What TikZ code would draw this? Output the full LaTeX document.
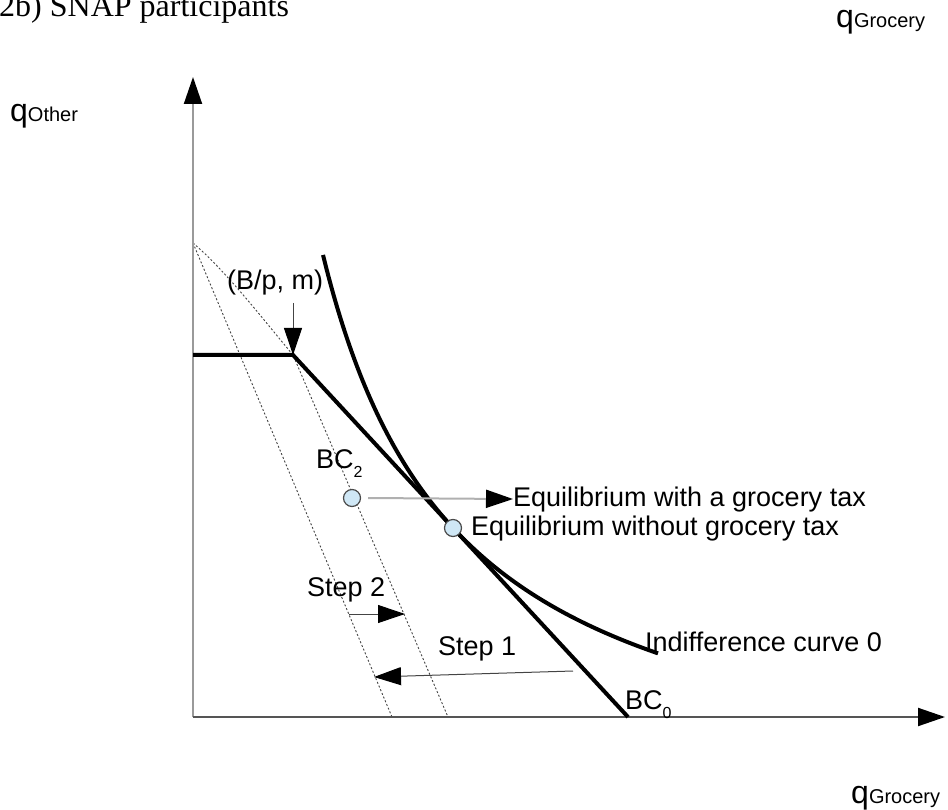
\documentclass[tikz,border=0pt]{standalone}
\usepackage{fontspec}
\setmainfont{Liberation Sans}
\newfontfamily\titlefont{Liberation Serif}
\usetikzlibrary{arrows.meta}
\definecolor{dotfill}{HTML}{CFE7F5}
\definecolor{dotdraw}{HTML}{4A4A4A}
\definecolor{axisv}{HTML}{9A9A9A}
\definecolor{axish}{HTML}{555555}
\definecolor{dashc}{HTML}{444444}
\definecolor{arrgray}{HTML}{B0B0B0}
\tikzset{
  bigtip/.style={-{Triangle[length=27pt,width=18pt,color=black]}},
  axisline/.style={line width=2pt, bigtip},
  thick line/.style={line width=4pt, black, line join=miter},
  budgetdash/.style={line width=0.9pt, dashc, dash pattern=on 2pt off 2pt},
  thinarrow/.style={line width=1pt, dashc, bigtip},
  eqdot/.style={circle, draw=dotdraw, fill=dotfill, line width=1.2pt, minimum size=17pt, inner sep=0pt},
  lbl/.style={inner sep=0pt, font=\fontsize{27}{30}\selectfont},
  qbig/.style={inner sep=0pt}
}
\newcommand{\qlabel}[1]{{\fontsize{32}{32}\selectfont q}{\fontsize{20}{20}\selectfont #1}}
\newcommand{\subl}[1]{\raisebox{-0.36em}{\fontsize{16}{16}\selectfont #1}}
\begin{document}
\begin{tikzpicture}[x=1pt, y=-1pt]
\useasboundingbox (0,0) rectangle (948,810);
% coordinates
\coordinate (O) at (193,717);
\coordinate (Ytop) at (193,77);
\coordinate (Xend) at (945,717);
\coordinate (D0) at (193,243);
\coordinate (K) at (293,355);
\coordinate (V) at (193,355);
\coordinate (BCend) at (628,717);
\coordinate (A2) at (392,717);
\coordinate (B2) at (448,717);
\coordinate (Kup) at (293,303);
\coordinate (S2a) at (349,614);
\coordinate (S2b) at (405,614);
\coordinate (S1a) at (573,671);
\coordinate (S1b) at (374,677);
% title and axis labels
\node[inner sep=0pt, anchor=base west, font=\titlefont\fontsize{32}{32}\selectfont] (title) at (-1,17) {2b) SNAP participants};
\node[qbig, anchor=base west] (qother) at (10,122) {\qlabel{Other}};
\node[qbig, anchor=base west] (qgrotop) at (836,28) {\qlabel{Grocery}};
\node[qbig, anchor=base west] (qgrobot) at (851,803) {\qlabel{Grocery}};
% dotted budget lines
\draw[budgetdash] (D0) -- (A2);
\draw[budgetdash] (D0) .. controls (226,271) and (262,318) .. (K) -- (B2);
% axes
\draw[axisline, axisv] (O) -- (Ytop);
\draw[axisline, axish] (O) -- (Xend);
% budget constraint
\draw[thick line] (V) -- (K) -- (BCend);
% indifference curve
\draw[line width=4pt, black] plot[domain=323:658, samples=120] (\x, {817 - 7733.9/((\x-185.4)/10)});
% equilibria
\node[eqdot] (E0) at (453,528) {};
\node[eqdot] (E2) at (352,498) {};
\node[lbl, anchor=base west] (lblTax) at (513,506) {Equilibrium with a grocery tax};
\node[lbl, anchor=west] (lblNoTax) at (471,529) {Equilibrium without grocery tax};
\draw[line width=2pt, arrgray, bigtip] ([xshift=7pt]E2.east) -- (lblTax.west);
% labels
\node[lbl, anchor=base west] (lblBp) at (227,290) {(B/p, m)};
\draw[thinarrow] (Kup) -- (K);
\node[lbl, anchor=base west] (lblBC2) at (316,468) {BC\subl{2}};
\node[lbl, anchor=base west] (lblBC0) at (625,709) {BC\subl{0}};
\node[lbl, anchor=base west] (lblIC) at (645,651) {Indifference curve 0};
\node[lbl, anchor=base west] (lblS2) at (307,596) {Step 2};
\node[lbl, anchor=base west] (lblS1) at (438,655) {Step 1};
\draw[thinarrow] (S2a) -- (S2b);
\draw[thinarrow] (S1a) -- (S1b);
\end{tikzpicture}
\end{document}
